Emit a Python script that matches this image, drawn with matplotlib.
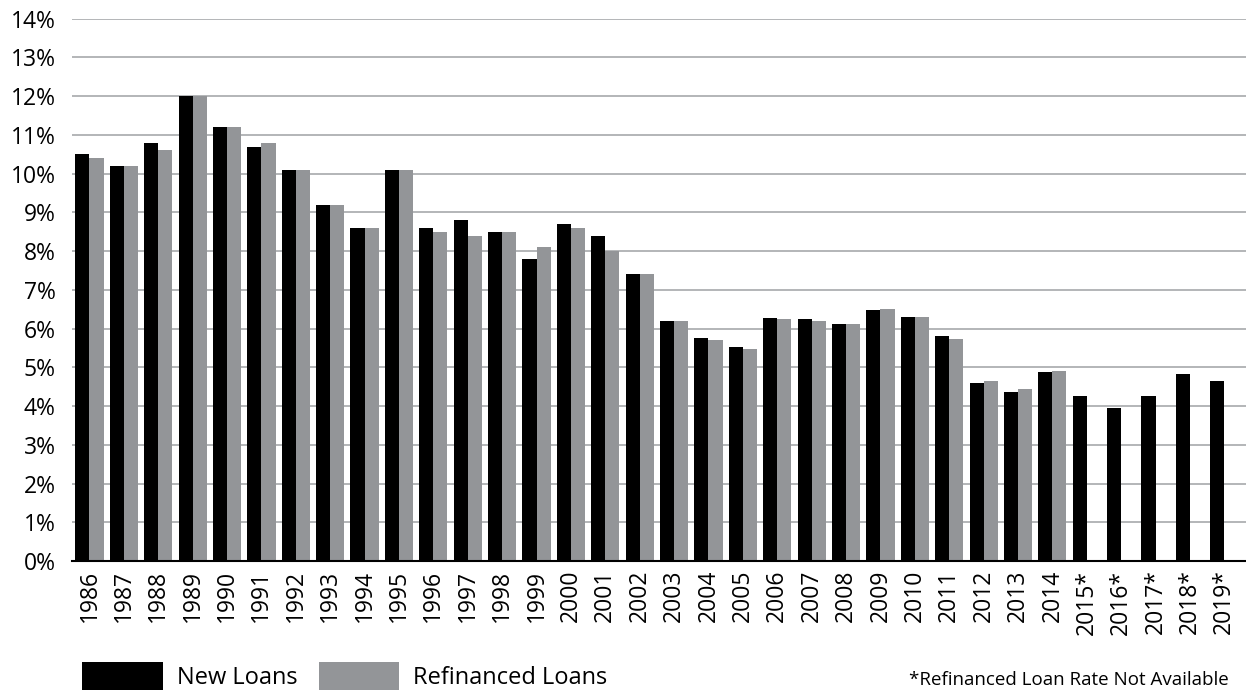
import numpy as np
import matplotlib.pyplot as plt

plt.rcParams['font.family'] = ['Open Sans', 'DejaVu Sans']

# Data (mortgage rates, %)
years = ['1986', '1987', '1988', '1989', '1990', '1991', '1992', '1993', '1994', '1995',
         '1996', '1997', '1998', '1999', '2000', '2001', '2002', '2003', '2004', '2005',
         '2006', '2007', '2008', '2009', '2010', '2011', '2012', '2013', '2014',
         '2015*', '2016*', '2017*', '2018*', '2019*']
new_loans = [10.5, 10.2, 10.8, 12.0, 11.2, 10.7, 10.1, 9.2, 8.6, 10.1,
             8.6, 8.8, 8.5, 7.8, 8.7, 8.4, 7.4, 6.2, 5.76, 5.52,
             6.28, 6.26, 6.11, 6.47, 6.29, 5.82, 4.59, 4.37, 4.88,
             4.27, 3.96, 4.26, 4.82, 4.64]
refi_loans = [10.4, 10.2, 10.6, 12.0, 11.2, 10.8, 10.1, 9.2, 8.6, 10.1,
              8.5, 8.4, 8.5, 8.1, 8.6, 8.0, 7.4, 6.2, 5.70, 5.48,
              6.25, 6.21, 6.11, 6.50, 6.29, 5.74, 4.65, 4.44, 4.90,
              np.nan, np.nan, np.nan, np.nan, np.nan]

fig = plt.figure(figsize=(12.46, 6.92), dpi=100)
ax = fig.add_axes([0.058, 0.189, 0.942, 0.784])

x = np.arange(len(years))
w = 0.41
ax.bar(x - w / 2, new_loans, w, color='black', label='New Loans', zorder=3)
ax.bar(x + w / 2, refi_loans, w, color='#939598', label='Refinanced Loans', zorder=3)

ax.set_ylim(0, 14)
ax.set_xlim(-0.5, 33.63)
ax.set_yticks(range(0, 15))
ax.set_yticklabels([f'{v}%' for v in range(0, 15)], fontsize=16.5)
ax.set_xticks(x)
ax.set_xticklabels(years, rotation=90, fontsize=16.5)
ax.tick_params(axis='both', length=0)
ax.tick_params(axis='y', pad=12)
ax.tick_params(axis='x', pad=6)
ax.grid(axis='y', color='#a7a9ac', linewidth=1.2, zorder=0)
for s in ['top', 'right', 'left']:
    ax.spines[s].set_visible(False)
ax.spines['bottom'].set_color('black')
ax.spines['bottom'].set_linewidth(1.5)
ax.spines['bottom'].set_zorder(4)

fig.legend(loc='lower left', bbox_to_anchor=(0.049, -0.028), ncol=2, frameon=False,
           fontsize=17, handlelength=3.4, handleheight=1.45, handletextpad=0.6,
           columnspacing=0.9)
fig.text(0.986, 0.005, '*Refinanced Loan Rate Not Available', ha='right', va='bottom',
         fontsize=13.5)

fig.savefig('out.png', dpi=100)
